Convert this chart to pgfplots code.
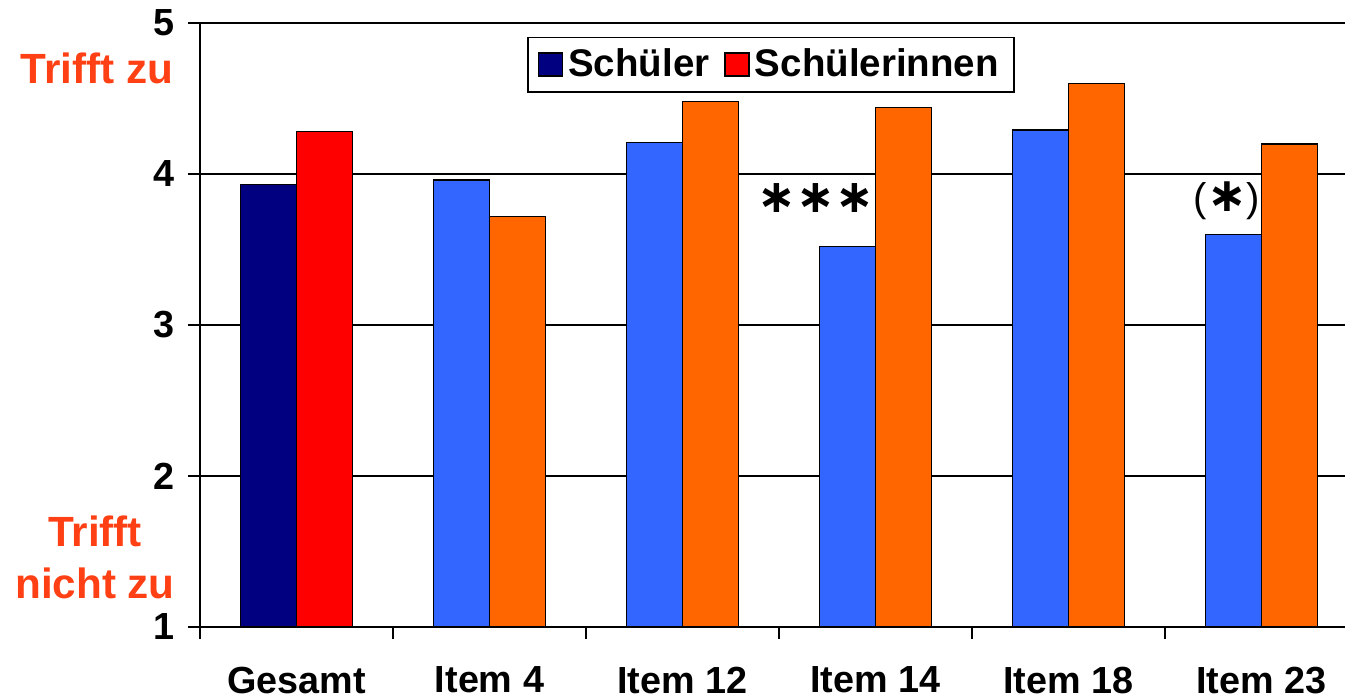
\documentclass[border=0pt]{standalone}
\usepackage{fontspec}
\setmainfont{Liberation Sans}
\newfontfamily\djv{DejaVu Sans}
\usepackage{pgfplots}
\pgfplotsset{compat=1.18}
\definecolor{navyb}{RGB}{0,0,128}
\definecolor{redb}{RGB}{255,0,0}
\definecolor{lblue}{RGB}{51,102,255}
\definecolor{lorange}{RGB}{255,102,0}
\definecolor{labred}{RGB}{255,64,20}
\newcommand{\tickfont}{\fontsize{15.1}{18}\selectfont\bfseries}
\newcommand{\labfont}{\fontsize{16.9}{20}\selectfont\bfseries}

\begin{document}
\begin{tikzpicture}
\begin{axis}[
    scale only axis, width=458pt, height=241.6pt,
    xmin=-0.5, xmax=5.433, ymin=1, ymax=5,
    axis x line*=bottom, axis y line*=left,
    axis line style={-, line width=0.8pt},
    ybar, bar width=0.29,
    clip mode=individual,
    ytick={1,2,3,4,5},
    ymajorgrids, grid style={black, line width=0.6pt},
    xtick={-0.5,0.5,...,4.5}, xticklabels={},
    extra x ticks={0,1,2,3,4,5},
    extra x tick labels={Gesamt, Item 4, Item 12, Item 14, Item 18, Item 23},
    extra x tick style={major tick length=0pt, xticklabel style={yshift=-12.4pt}},
    tick align=outside, major tick length=4.8pt,
    tick style={black, line width=0.6pt},
    every tick label/.append style={font=\tickfont},
    yticklabel style={xshift=-2pt},
    /pgf/number format/assume math mode=true,
    legend style={at={(0.2856,0.977)}, anchor=north west, draw=black,
        line width=0.6pt, font=\fontsize{15.4}{18}\selectfont\bfseries,
        inner xsep=4pt, inner ysep=2.5pt,
        /tikz/every even column/.append style={column sep=4pt}},
    legend columns=2,
    legend image code/.code={\draw[#1, line width=0.6pt] (0pt,-4.6pt) rectangle (9.6pt,4.6pt);},
]
\addplot[fill=navyb, draw=black, line width=0.6pt, bar shift=-0.145] coordinates {(0,3.93)};
\addlegendentry{Schüler}
\addplot[fill=redb, draw=black, line width=0.6pt, bar shift=0.145] coordinates {(0,4.28)};
\addlegendentry{Schülerinnen}
\addplot[fill=lblue, draw=black, line width=0.6pt, bar shift=-0.145, forget plot]
    coordinates {(1,3.96) (2,4.21) (3,3.52) (4,4.29) (5,3.60)};
\addplot[fill=lorange, draw=black, line width=0.6pt, bar shift=0.145, forget plot]
    coordinates {(1,3.72) (2,4.48) (3,4.44) (4,4.60) (5,4.20)};

\node[labred, font=\labfont] at (axis cs:-1.034,4.70) {Trifft zu};
\node[labred, font=\labfont] at (axis cs:-1.044,1.63) {Trifft};
\node[labred, font=\labfont] at (axis cs:-1.044,1.29) {nicht zu};
\node[font={\djv\bfseries\fontsize{18.5}{20}\selectfont}] at (axis cs:2.692,3.84) {∗∗∗};
\node[font={\fontsize{16}{20}\selectfont}] at (axis cs:4.821,3.82) {({\djv\bfseries\fontsize{19}{20}\selectfont ∗})};

\coordinate (bl) at (rel axis cs:0,0);
\coordinate (tr) at (rel axis cs:1,1);
\end{axis}
\pgfresetboundingbox
\path ([shift={(-80pt,-28.4pt)}]bl) rectangle ([yshift=9.2pt]tr);
\end{tikzpicture}
\end{document}
